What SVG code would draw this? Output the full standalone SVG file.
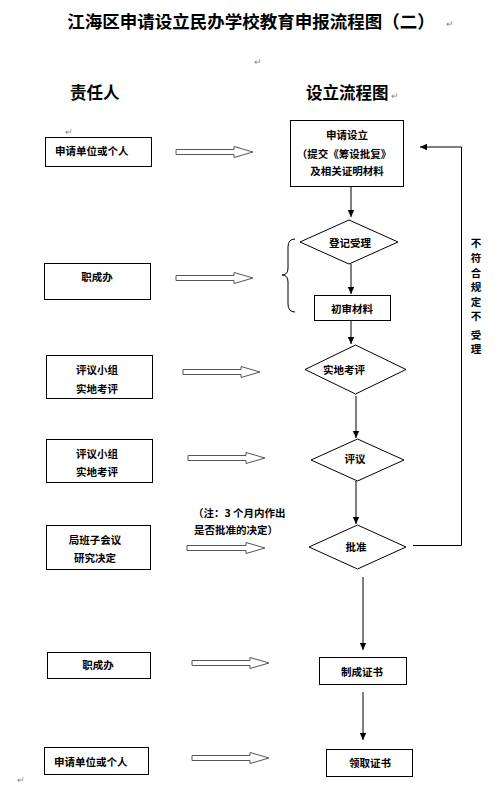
<svg xmlns="http://www.w3.org/2000/svg" width="504" height="790" viewBox="0 0 504 790">
<style>
text{font-family:"Noto Sans CJK SC","Noto Sans",sans-serif;fill:#000;dominant-baseline:central}
.t{font-size:17.5px;font-weight:bold}
.h{font-size:16.5px;font-weight:bold}
.l{font-size:10.5px;font-weight:bold}
.c{text-anchor:middle}
.mk{font-size:9px;fill:#888}
.box{fill:#fff;stroke:#000;stroke-width:1}
.dia{fill:#fff;stroke:#000;stroke-width:1}
.ln{fill:none;stroke:#000;stroke-width:1}
.ba{fill:#fff;stroke:#555;stroke-width:1}
</style>
<defs>
<marker id="ah" markerWidth="8" markerHeight="8" refX="7" refY="4" orient="auto" markerUnits="userSpaceOnUse">
<path d="M0,0.8 L7,4 L0,7.2 Z" fill="#000"/>
</marker>
</defs>
<rect width="504" height="790" fill="#fff"/>
<g id="headers">
<text class="t c" x="251" y="20">江海区申请设立民办学校教育申报流程图（二）</text>
<text class="mk" x="446" y="23">↵</text>
<text class="mk" x="254" y="61">↵</text>
<text class="h" x="70" y="92">责任人</text>
<text class="h" x="306" y="92">设立流程图</text>
<text class="mk" x="391" y="95">↵</text>
<text class="mk" x="65" y="131">↵</text>
<text class="mk" x="17" y="779">↵</text>
</g>
<g id="connectors">
<path class="ln" d="M351,187 V217" marker-end="url(#ah)"/>
<path class="ln" d="M351,264 V294" marker-end="url(#ah)"/>
<path class="ln" d="M351,321 V344" marker-end="url(#ah)"/>
<path class="ln" d="M356,396 V438" marker-end="url(#ah)"/>
<path class="ln" d="M356,481 V524" marker-end="url(#ah)"/>
<path class="ln" d="M363,577 V650" marker-end="url(#ah)"/>
<path class="ln" d="M363,692 V740" marker-end="url(#ah)"/>
<path class="ln" d="M413,545.5 H461.5 V147 H420" marker-end="url(#ah)"/>
<path class="ln" d="M295,239 Q288,239 288,247 V268 Q288,275 282,275 Q288,275 288,282 V304 Q288,312 295,312"/>
<path class="ba" d="M176,149.5 H234 V146.5 L253,152 L234,157.5 V154.5 H176 Z"/>
<path class="ba" d="M176,275.5 H234 V272.5 L253,278 L234,283.5 V280.5 H176 Z"/>
<path class="ba" d="M183,369.5 H241 V366.5 L260,372 L241,377.5 V374.5 H183 Z"/>
<path class="ba" d="M188,455.5 H246 V452.5 L265,458 L246,463.5 V460.5 H188 Z"/>
<path class="ba" d="M187,545.5 H246 V542.5 L265,548 L246,553.5 V550.5 H187 Z"/>
<path class="ba" d="M192,660.5 H250 V657.5 L269,663 L250,668.5 V665.5 H192 Z"/>
<path class="ba" d="M192,755.5 H250 V752.5 L269,758 L250,763.5 V760.5 H192 Z"/>
</g>
<g id="n_apply">
<rect class="box" x="290.5" y="120.5" width="113" height="66"/>
<text class="l c" x="347" y="134">申请设立</text>
<text class="l c" x="344" y="153">（提交《筹设批复》</text>
<text class="l c" x="347" y="170">及相关证明材料</text>
</g>
<g id="n_register">
<polygon class="dia" points="349,220 398,242 349,264 300,242"/>
<text class="l c" x="350" y="242">登记受理</text>
</g>
<g id="n_review">
<rect class="box" x="314.5" y="295.5" width="76" height="25"/>
<text class="l c" x="352" y="308">初审材料</text>
</g>
<g id="n_inspect">
<polygon class="dia" points="355.5,345 406,369.5 355.5,394 305,369.5"/>
<text class="l c" x="344" y="369">实地考评</text>
</g>
<g id="n_evaluate">
<polygon class="dia" points="357.5,439 404,460 357.5,481 311,460"/>
<text class="l c" x="355" y="458">评议</text>
</g>
<g id="n_approve">
<polygon class="dia" points="357.5,525 406,547 357.5,569 309,547"/>
<text class="l c" x="356" y="546">批准</text>
</g>
<g id="n_make">
<rect class="box" x="319.5" y="657.5" width="87" height="27"/>
<text class="l c" x="362" y="671">制成证书</text>
</g>
<g id="n_collect">
<rect class="box" x="326.5" y="749.5" width="86" height="27"/>
<text class="l c" x="370" y="762">领取证书</text>
</g>
<g id="n_reject_label">
<text class="l c" x="476" y="242">不</text>
<text class="l c" x="476" y="257">符</text>
<text class="l c" x="476" y="272">合</text>
<text class="l c" x="476" y="286">规</text>
<text class="l c" x="476" y="301">定</text>
<text class="l c" x="476" y="315">不</text>
<text class="l c" x="476" y="334">受</text>
<text class="l c" x="476" y="348">理</text>
</g>
<g id="n_note">
<text class="l" x="193" y="512">（注：3 个月内作出</text>
<text class="l" x="194" y="529">是否批准的决定）</text>
</g>
<g id="r_applicant1">
<rect class="box" x="45.5" y="137.5" width="106" height="29"/>
<text class="l" x="55" y="150">申请单位或个人</text>
</g>
<g id="r_office1">
<rect class="box" x="44.5" y="263.5" width="106" height="36"/>
<text class="l c" x="97" y="276">职成办</text>
</g>
<g id="r_panel1">
<rect class="box" x="46.5" y="355.5" width="106" height="43"/>
<text class="l c" x="97" y="369">评议小组</text>
<text class="l c" x="97" y="388">实地考评</text>
</g>
<g id="r_panel2">
<rect class="box" x="46.5" y="439.5" width="106" height="43"/>
<text class="l c" x="97" y="453">评议小组</text>
<text class="l c" x="97" y="471">实地考评</text>
</g>
<g id="r_bureau">
<rect class="box" x="46.5" y="525.5" width="104" height="44"/>
<text class="l c" x="95" y="539">局班子会议</text>
<text class="l c" x="95" y="557">研究决定</text>
</g>
<g id="r_office2">
<rect class="box" x="47.5" y="652.5" width="103" height="26"/>
<text class="l c" x="98" y="664">职成办</text>
</g>
<g id="r_applicant2">
<rect class="box" x="44.5" y="747.5" width="104" height="27"/>
<text class="l" x="54" y="761">申请单位或个人</text>
</g>
</svg>
